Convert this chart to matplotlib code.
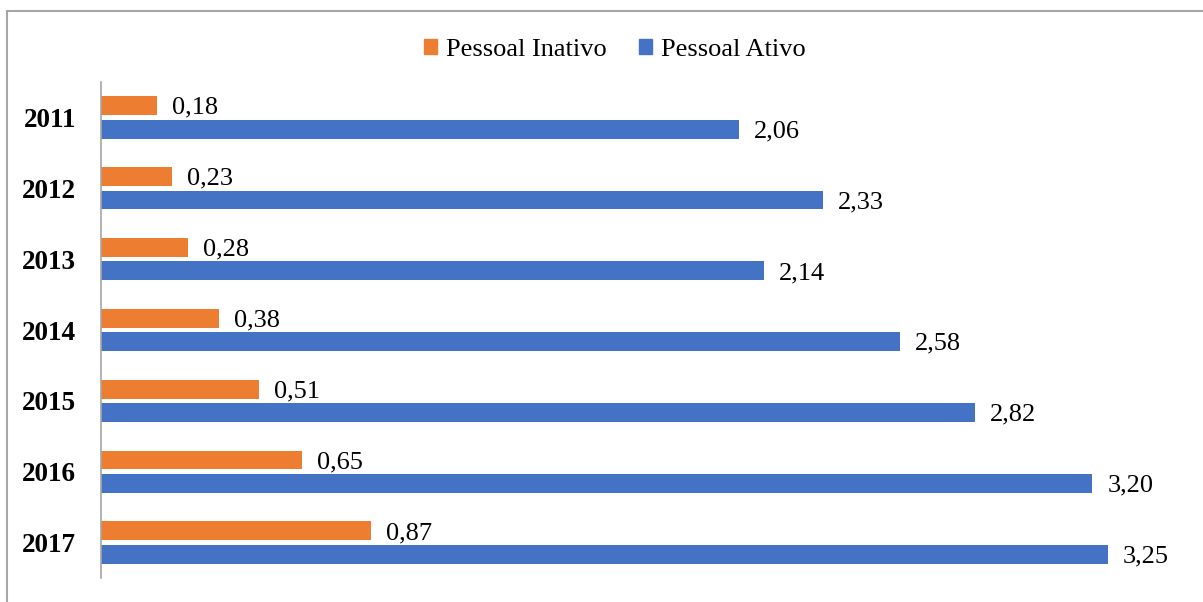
import matplotlib.pyplot as plt
from matplotlib.patches import Rectangle, Patch
import numpy as np

# Dados
anos = ["2011", "2012", "2013", "2014", "2015", "2016", "2017"]
inativo = [0.18, 0.23, 0.28, 0.38, 0.51, 0.65, 0.87]
ativo = [2.06, 2.33, 2.14, 2.58, 2.82, 3.20, 3.25]

cor_inativo = "#ED7D31"
cor_ativo = "#4472C4"

plt.rcParams["font.family"] = ["Liberation Serif", "DejaVu Serif"]

fig = plt.figure(figsize=(12.03, 6.02), dpi=100)
ax = fig.add_axes([101 / 1203, 1 - 578 / 602, (1180 - 101) / 1203, (578 - 82) / 602])

y = np.arange(len(anos))
h = 0.265
off = 0.165
ax.barh(y - off, inativo, height=h, color=cor_inativo)
ax.barh(y + off, ativo, height=h, color=cor_ativo)

def fmt(v):
    return f"{v:.2f}".replace(".", ",")

dx = 15 / 309.8
for i in range(len(anos)):
    ax.text(inativo[i] + dx, y[i] - off + 0.03, fmt(inativo[i]), va="center",
            ha="left", fontsize=19)
    ax.text(ativo[i] + dx, y[i] + off + 0.03, fmt(ativo[i]), va="center",
            ha="left", fontsize=19)

ax.set_ylim(len(anos) - 0.5, -0.5)
ax.set_xlim(0, (1180 - 101) / 309.8)
ax.set_yticks(y)
ax.set_yticklabels(anos, fontsize=19.5, fontweight="bold")
ax.tick_params(axis="y", length=0, pad=18)
ax.set_xticks([])
for s in ["top", "right", "bottom"]:
    ax.spines[s].set_visible(False)
ax.spines["left"].set_color("#A6A6A6")
ax.spines["left"].set_linewidth(1.2)

# Legenda
handles = [Patch(color=cor_inativo, label="Pessoal Inativo"),
           Patch(color=cor_ativo, label="Pessoal Ativo")]
fig.legend(handles=handles, loc="center", bbox_to_anchor=(0.511, 0.917), ncol=2,
           frameon=False, fontsize=19, handlelength=0.5, handleheight=0.5,
           handletextpad=0.35, columnspacing=1.2)

# Borda
fig.patches.append(Rectangle((7 / 1203, -0.1), 1.2, 1 - 11 / 602 + 0.1,
                             transform=fig.transFigure, fill=False,
                             edgecolor="#A6A6A6", linewidth=1.5))

fig.savefig("out.png", dpi=100)
